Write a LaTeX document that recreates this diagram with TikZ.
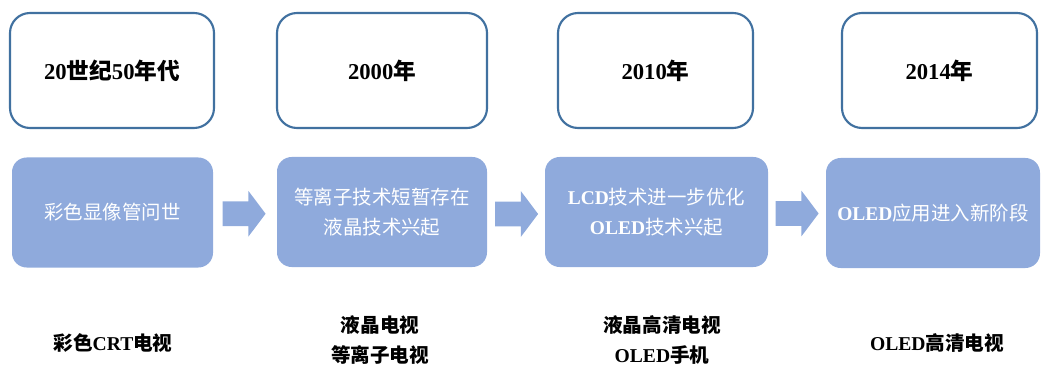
\documentclass[tikz,border=0pt]{standalone}
\usepackage{fontspec}
\setmainfont{Liberation Serif}
\newfontfamily\cjk{Noto Sans CJK SC}
\usetikzlibrary{shapes.arrows,calc}
\definecolor{boxline}{RGB}{65,113,160}
\definecolor{boxfill}{RGB}{143,170,220}
\tikzset{
  yearbox/.style={draw=boxline, line width=1.6pt, fill=white, rounded corners=15pt,
    minimum height=86.25pt, inner sep=0pt, align=center,
    font=\fontsize{17}{20}\selectfont\bfseries},
  stagebox/.style={fill=boxfill, draw=none, rounded corners=11pt,
    minimum height=82.5pt, inner sep=0pt, align=center, text=white,
    font=\fontsize{14.6}{22.5}\selectfont\bfseries},
  blockarrow/.style={single arrow, fill=boxfill, draw=none,
    inner xsep=0pt, inner ysep=9pt,
    minimum height=32.25pt,
    single arrow head extend=7.9pt, single arrow tip angle=106},
  prodlabel/.style={align=center, inner sep=0pt,
    font=\fontsize{14.7}{22.5}\selectfont\bfseries}
}
\begin{document}
\begin{tikzpicture}[x=0.75pt,y=-0.75pt]
\useasboundingbox (0,0) rectangle (1042,367);
% year boxes
\node[yearbox, minimum width=153pt] (y1) at (112,70.5) {20{\cjk 世纪}50{\cjk 年代}};
\node[yearbox, minimum width=157.5pt] (y2) at (382,70.5) {2000{\cjk 年}};
\node[yearbox, minimum width=146.25pt] (y3) at (655.5,70.5) {2010{\cjk 年}};
\node[yearbox, minimum width=146.25pt] (y4) at (939.5,70.5) {2014{\cjk 年}};
% stage boxes
\node[stagebox, minimum width=150.75pt] (s1) at (112.5,212.5) {{\cjk\mdseries 彩色显像管问世}};
\node[stagebox, minimum width=157.5pt] (s2) at (382,212) {{\cjk\mdseries 等离子技术短暂存在}\\{\cjk\mdseries 液晶技术兴起}};
\node[stagebox, minimum width=167.25pt] (s3) at (656.5,212) {LCD{\cjk\mdseries 技术进一步优化}\\OLED{\cjk\mdseries 技术兴起}};
\node[stagebox, minimum width=160.5pt] (s4) at (933,213) {OLED{\cjk\mdseries 应用进入新阶段}};
% arrows
\node[blockarrow] (a1) at ($(s1.east)!0.5!(s2.west)+(-5.5,1.5)$) {};
\node[blockarrow] (a2) at ($(s2.east)!0.5!(s3.west)+(-4,2)$) {};
\node[blockarrow] (a3) at ($(s3.east)!0.5!(s4.west)+(-4.5,1)$) {};
% product labels
\node[prodlabel] (p1) at (113,342.5) {{\cjk 彩色}CRT{\cjk 电视}};
\node[prodlabel] (p2) at (380,340) {{\cjk 液晶电视}\\{\cjk 等离子电视}};
\node[prodlabel] (p3) at (662,340) {{\cjk 液晶高清电视}\\OLED{\cjk 手机}};
\node[prodlabel] (p4) at (937,342.5) {OLED{\cjk 高清电视}};
\end{tikzpicture}
\end{document}
